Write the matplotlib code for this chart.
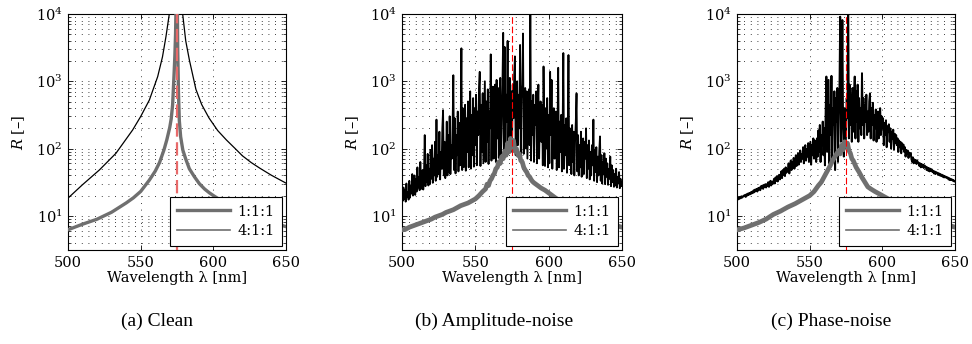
import numpy as np
import matplotlib
matplotlib.use("Agg")
import matplotlib.pyplot as plt
from matplotlib.lines import Line2D
from matplotlib.ticker import LogLocator, NullFormatter, FixedLocator

plt.rcParams["font.family"] = ["DejaVu Serif"]
plt.rcParams["mathtext.fontset"] = "dejavuserif"

# ---------------------------------------------------------------- data
resonance_nm = 575.0
series_labels = ["1:1:1", "4:1:1"]
captions = ["(a) Clean", "(b) Amplitude-noise", "(c) Phase-noise"]
x_ticks = [500, 550, 600, 650]

# (a) clean spectra
clean_111_nm = [500, 510, 520, 530, 540, 545, 550, 556, 560, 563, 566, 568, 570, 571,
                572, 573, 573.5, 574, 574.5, 575, 575.5, 576, 576.6, 577.5, 579, 581,
                583.5, 587, 590.4, 594, 597.2, 600, 610, 620, 630, 640, 650]
clean_111_R = [6.2, 7.5, 8.9, 11.3, 15.5, 18.5, 23, 34, 46, 62, 95, 135, 205, 275,
               450, 1300, 2300, 5000, 20000, 50000, 3000, 700, 260, 150, 95, 70,
               50, 38, 30, 25, 22, 20, 14.5, 11.3, 9.3, 8.0, 6.9]

clean_411_nm = [500, 510, 521.6, 533, 544.5, 550, 556, 561.7, 565, 567.4, 569.7, 571,
                573, 575, 577, 578.9, 581, 583.5, 588, 592, 597, 603, 609, 615, 620,
                626, 632, 640, 650]
clean_411_R = [18.3, 29, 48, 85, 189, 299, 527, 1170, 2300, 4600, 10000, 16000,
               30000, 50000, 30000, 10000, 4000, 2080, 760, 450, 285, 185, 134, 100,
               78, 62, 51, 40, 30.6]

# noisy 4:1:1 spectra, sampled every 0.5 nm from 500 to 650 nm (log10 R)
noisy_nm = np.arange(500.0, 650.01, 0.5)

amp_411_log = [
    1.30, 1.22, 1.42, 1.25, 1.38, 1.21, 1.48, 1.28, 1.35, 1.24,
    1.52, 1.27, 1.45, 1.33, 1.62, 1.30, 1.40, 1.60, 1.31, 1.55,
    1.36, 1.72, 1.42, 1.58, 1.38, 1.80, 1.45, 1.40, 1.68, 1.39,
    1.62, 2.20, 1.44, 1.75, 1.50, 1.92, 1.45, 1.70, 1.47, 1.98,
    1.55, 2.05, 1.49, 1.85, 1.60, 2.10, 1.52, 2.43, 1.58, 1.90,
    1.62, 2.25, 1.54, 1.95, 1.70, 2.30, 2.57, 1.60, 2.10, 1.56,
    1.75, 2.40, 1.60, 2.20, 1.65, 2.48, 1.62, 2.05, 1.85, 2.35,
    3.09, 1.68, 2.45, 1.63, 2.20, 1.90, 2.55, 1.66, 2.38, 1.75,
    2.30, 3.49, 1.68, 2.60, 1.72, 2.15, 2.65, 1.67, 2.45, 1.95,
    2.70, 1.72, 2.35, 2.85, 1.70, 2.50, 1.90, 2.75, 1.73, 2.60,
    2.05, 2.80, 1.75, 2.55, 2.20, 2.90, 3.14, 1.74, 2.65, 1.95,
    2.82, 1.78, 2.40, 3.00, 1.80, 2.70, 2.10, 2.88, 1.77, 2.55,
    2.30, 3.40, 1.82, 2.75, 2.92, 1.85, 2.50, 2.95, 1.80, 3.02,
    2.15, 2.90, 1.86, 2.60, 3.05, 1.90, 2.35, 2.98, 3.72, 1.88,
    3.51, 1.90, 2.80, 2.40, 3.60, 1.92, 2.70, 3.05, 2.00, 2.85,
    1.95, 2.95, 2.45, 3.10, 3.37, 1.90, 2.65, 3.00, 2.05, 2.80,
    2.30, 3.54, 1.88, 2.75, 2.95, 3.71, 1.92, 2.60, 2.90, 2.00,
    2.85, 1.85, 2.40, 2.88, 2.05, 4.30, 1.82, 2.70, 2.20, 2.80,
    1.80, 2.65, 2.35, 2.85, 1.78, 2.55, 2.95, 1.85, 2.45, 2.70,
    2.10, 2.65, 1.75, 3.22, 2.30, 1.74, 2.60, 2.00, 2.75, 1.72,
    2.50, 1.78, 3.14, 2.20, 3.02, 1.70, 2.45, 2.60, 1.85, 2.35,
    2.55, 1.68, 2.30, 3.20, 1.72, 2.40, 1.95, 2.50, 1.66, 2.25,
    3.42, 1.70, 2.35, 1.90, 2.45, 1.64, 2.20, 3.39, 1.75, 2.30,
    2.05, 1.62, 2.35, 1.80, 2.25, 1.60, 2.10, 2.40, 2.82, 1.66,
    2.20, 1.60, 2.05, 1.72, 2.25, 1.58, 1.95, 2.15, 1.62, 2.10,
    1.85, 2.30, 1.56, 2.05, 1.70, 2.12, 1.54, 1.95, 1.60, 2.05,
    1.75, 2.43, 1.52, 1.98, 1.65, 2.02, 1.50, 1.88, 1.60, 1.96,
    2.18, 1.52, 1.90, 1.48, 1.80, 1.62, 1.93, 1.47, 1.85, 1.58,
    1.78, 1.46, 1.70, 1.55, 1.88, 1.44, 1.75, 1.50, 1.68, 1.43,
    1.62, 1.45, 1.70, 1.42, 1.58, 1.48, 1.65, 1.41, 1.55, 1.44,
    1.50,
]

phase_411_log = [
    1.26, 1.24, 1.27, 1.25, 1.28, 1.26, 1.29, 1.27, 1.28, 1.30,
    1.29, 1.31, 1.28, 1.32, 1.30, 1.33, 1.31, 1.34, 1.32, 1.35,
    1.33, 1.36, 1.34, 1.38, 1.35, 1.39, 1.37, 1.40, 1.36, 1.41,
    1.39, 1.42, 1.38, 1.44, 1.41, 1.45, 1.40, 1.46, 1.43, 1.47,
    1.42, 1.47, 1.44, 1.50, 1.43, 1.48, 1.52, 1.45, 1.51, 1.47,
    1.50, 1.55, 1.48, 1.57, 1.52, 1.59, 1.51, 1.56, 1.61, 1.54,
    1.58, 1.66, 1.56, 1.68, 1.61, 1.70, 1.59, 1.72, 1.64, 1.69,
    1.66, 1.78, 1.63, 1.74, 1.82, 1.68, 1.80, 1.72, 1.86, 1.70,
    1.78, 1.90, 1.74, 1.86, 1.93, 1.76, 1.88, 1.97, 1.80, 1.92,
    1.85, 2.02, 1.78, 1.96, 2.05, 1.82, 1.99, 1.88, 2.08, 1.80,
    1.95, 2.10, 1.76, 2.05, 1.90, 2.15, 1.85, 2.12, 1.98, 1.80,
    2.15, 1.88, 2.27, 1.95, 2.35, 1.80, 2.20, 2.05, 2.40, 1.90,
    2.30, 1.75, 2.55, 3.07, 1.95, 2.45, 3.02, 1.78, 2.65, 2.20,
    3.08, 1.85, 2.60, 2.35, 2.85, 1.68, 2.75, 2.40, 2.90, 1.80,
    2.50, 2.85, 3.96, 2.10, 2.70, 3.91, 2.30, 1.88, 2.60, 2.00,
    2.20, 2.75, 2.45, 4.30, 2.15, 2.95, 2.35, 2.80, 2.10, 2.90,
    2.25, 2.70, 3.07, 2.15, 2.85, 2.40, 2.95, 2.10, 2.75, 2.30,
    2.60, 2.20, 3.12, 2.35, 2.75, 2.15, 2.65, 2.40, 2.80, 2.20,
    2.55, 2.25, 2.70, 2.82, 2.15, 2.60, 2.35, 2.68, 2.12, 2.50,
    2.30, 2.58, 2.10, 2.45, 2.55, 2.15, 2.40, 2.60, 2.20, 2.48,
    2.30, 2.45, 2.05, 2.38, 2.20, 2.42, 2.02, 2.33, 2.25, 2.36,
    2.10, 2.30, 2.00, 2.25, 2.15, 2.28, 1.98, 2.22, 2.08, 2.20,
    2.05, 2.15, 1.95, 2.12, 2.02, 2.10, 1.93, 2.08, 2.00, 2.06,
    1.95, 2.02, 1.88, 1.98, 1.92, 1.97, 1.86, 1.94, 1.90, 1.93,
    1.85, 1.80, 1.87, 1.78, 1.84, 1.79, 1.83, 1.77, 1.82, 1.78,
    1.79, 1.74, 1.78, 1.72, 1.77, 1.73, 1.76, 1.71, 1.75, 1.72,
    1.73, 1.68, 1.72, 1.67, 1.71, 1.66, 1.70, 1.67, 1.69, 1.65,
    1.67, 1.63, 1.66, 1.62, 1.65, 1.63, 1.64, 1.61, 1.63, 1.60,
    1.62, 1.59, 1.61, 1.58, 1.60, 1.57, 1.59, 1.57, 1.58, 1.56,
    1.57, 1.54, 1.56, 1.53, 1.55, 1.53, 1.54, 1.52, 1.53, 1.51,
    1.51,
]

# noisy 1:1:1 spectra (log10 R)
amp_111_nm = [500, 502.5, 505, 507.5, 510, 512.5, 515, 517.5, 520, 522.5, 525, 527.5,
              530, 532.5, 535, 537.5, 540, 542.5, 545, 547.5, 550, 552.5, 555, 557,
              558, 559, 560, 561, 562, 563, 564, 565, 566, 567, 568, 569, 570, 571,
              572, 573, 574, 575, 576, 577, 578, 579, 580, 581, 582, 583, 584, 585,
              586, 587, 588, 589, 590, 592.5, 595, 597.5, 600, 605, 610, 615, 620,
              625, 630, 635, 640, 645, 650]
amp_111_log = [0.79, 0.80, 0.83, 0.85, 0.87, 0.89, 0.91, 0.93, 0.95, 0.98, 1.00, 1.02,
               1.05, 1.07, 1.09, 1.12, 1.15, 1.17, 1.19, 1.22, 1.25, 1.30, 1.36, 1.40,
               1.47, 1.45, 1.52, 1.55, 1.60, 1.63, 1.70, 1.72, 1.80, 1.78, 1.88, 1.85,
               1.96, 1.90, 2.08, 1.95, 2.15, 2.02, 2.12, 1.96, 2.00, 1.90, 1.92, 1.82,
               1.80, 1.72, 1.68, 1.65, 1.60, 1.58, 1.54, 1.51, 1.49, 1.45, 1.41, 1.38,
               1.34, 1.26, 1.19, 1.13, 1.07, 1.03, 0.98, 0.94, 0.90, 0.86, 0.83]

phase_111_nm = [500, 505, 510, 515, 520, 525, 530, 535, 540, 545, 550, 553, 556, 558,
                560, 562, 564, 566, 568, 570, 571, 572, 573, 574, 575, 576, 577, 578,
                579, 580, 582, 584, 586, 588, 590, 592, 595, 600, 610, 620, 630, 640,
                650]
phase_111_log = [0.79, 0.82, 0.86, 0.90, 0.95, 1.02, 1.07, 1.13, 1.18, 1.24, 1.30,
                 1.36, 1.45, 1.50, 1.58, 1.66, 1.74, 1.83, 1.90, 1.97, 1.92, 2.05,
                 1.98, 2.10, 2.05, 2.08, 1.97, 1.93, 1.85, 1.82, 1.72, 1.65, 1.57,
                 1.50, 1.43, 1.40, 1.36, 1.30, 1.18, 1.07, 0.98, 0.90, 0.83]

# ---------------------------------------------------------------- style
GRAY = "#6f6f6f"
W, H = 972, 344
axes_px = [(68, 286), (402, 622), (737, 955)]
caption_x = [157, 494, 831]
top_px, bottom_px = 14, 250

panels = [
    dict(gray=(clean_111_nm, np.array(clean_111_R)),
         black=(clean_411_nm, np.array(clean_411_R)),
         red="#e86a6a", red_lw=1.6, gray_lw=2.4, black_lw=0.9),
    dict(gray=(amp_111_nm, 10 ** np.array(amp_111_log)),
         black=(noisy_nm, 10 ** np.array(amp_411_log)),
         red="#ff0000", red_lw=0.8, gray_lw=3.4, black_lw=1.3),
    dict(gray=(phase_111_nm, 10 ** np.array(phase_111_log)),
         black=(noisy_nm, 10 ** np.array(phase_411_log)),
         red="#ff0000", red_lw=0.8, gray_lw=3.4, black_lw=1.4),
]

fig = plt.figure(figsize=(W / 100, H / 100), dpi=100)

for (x0, x1), p, cap, cx in zip(axes_px, panels, captions, caption_x):
    ax = fig.add_axes([x0 / W, 1 - bottom_px / H, (x1 - x0) / W,
                       (bottom_px - top_px) / H])
    ax.set_yscale("log")
    ax.plot(*p["black"], color="black", lw=p["black_lw"], zorder=3)
    ax.plot(*p["gray"], color=GRAY, lw=p["gray_lw"], zorder=4,
            solid_joinstyle="round")
    ax.axvline(resonance_nm, color=p["red"], lw=p["red_lw"],
               dashes=(6, 2.5), zorder=5)

    ax.set_xlim(500, 650)
    ax.set_ylim(3.1, 1e4)
    ax.xaxis.set_major_locator(FixedLocator(x_ticks))
    ax.yaxis.set_major_locator(LogLocator(base=10, numticks=10))
    ax.yaxis.set_minor_locator(LogLocator(base=10, subs=np.arange(2, 10), numticks=20))
    ax.yaxis.set_minor_formatter(NullFormatter())

    ax.grid(which="major", axis="both", color="black", lw=0.6,
            linestyle=(0, (1, 7)))
    ax.grid(which="minor", axis="y", color="black", lw=0.6,
            linestyle=(0, (1, 7)))
    ax.set_axisbelow(True)

    ax.tick_params(which="both", direction="in", top=True, right=True,
                   labelsize=10.5, pad=4)
    ax.tick_params(which="major", length=3.5, width=0.6)
    ax.tick_params(which="minor", length=2, width=0.5)
    for s in ax.spines.values():
        s.set_linewidth(0.8)

    ax.set_xlabel("Wavelength λ [nm]", fontsize=10.5, labelpad=1)
    ax.set_ylabel(r"$R$ [–]", fontsize=10.5, labelpad=6)

    handles = [Line2D([], [], color=GRAY, lw=2.4),
               Line2D([], [], color=GRAY, lw=1.2)]
    leg = ax.legend(handles, series_labels, loc="lower right", fontsize=10.5,
                    frameon=True, fancybox=False, framealpha=1,
                    edgecolor="black", handlelength=3.6, handletextpad=0.5,
                    borderpad=0.5, labelspacing=0.4, borderaxespad=0.3)
    leg.get_frame().set_linewidth(0.8)
    leg.set_zorder(10)

    fig.text(cx / W, 1 - 321 / H, cap, ha="center", va="center",
             family="Liberation Serif", fontsize=14)

fig.savefig("out.png", dpi=100)
